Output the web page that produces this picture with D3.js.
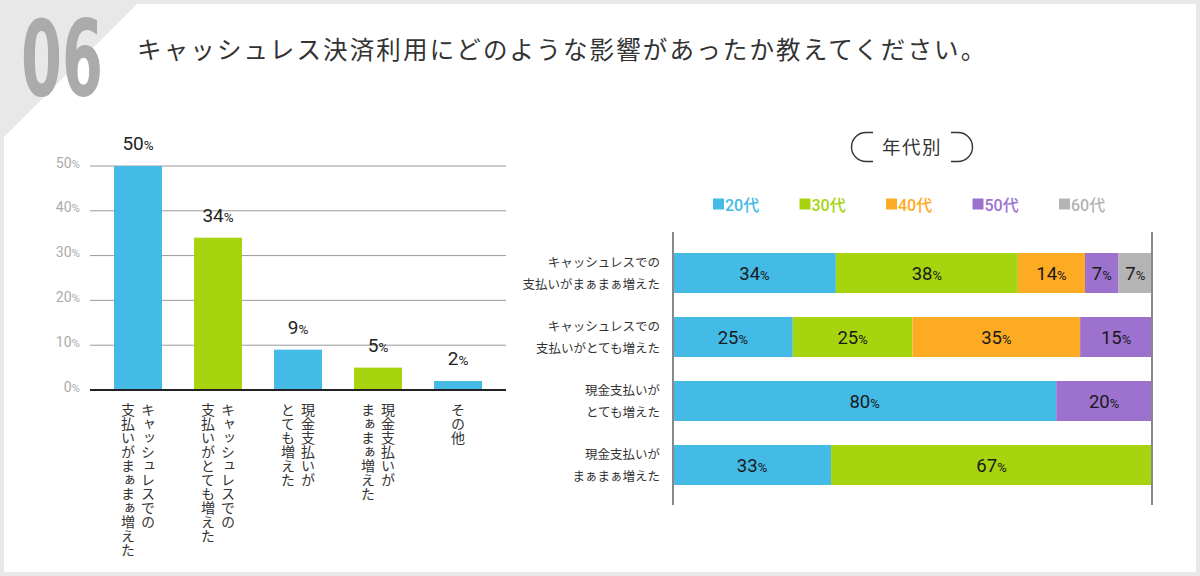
<!DOCTYPE html>
<html><head><meta charset="utf-8">
<script src="https://cdn.jsdelivr.net/npm/d3@7/dist/d3.min.js"></script>
<style>
html,body{margin:0;padding:0;background:#e8e8e8;}
svg{display:block;}
</style></head>
<body>
<svg id="c" width="1200" height="576"></svg>
<script>
// ---------- data ----------
const titleText = "キャッシュレス決済利用にどのような影響があったか教えてください。";
const leftCategories = [
  ["キャッシュレスでの","支払いがまぁまぁ増えた"],
  ["キャッシュレスでの","支払いがとても増えた"],
  ["現金支払いが","とても増えた"],
  ["現金支払いが","まぁまぁ増えた"],
  ["その他"]
];
const leftValues = [50, 34, 9, 5, 2];
const leftTicks = [0, 10, 20, 30, 40, 50];

const rightCategories = [
  ["キャッシュレスでの","支払いがまぁまぁ増えた"],
  ["キャッシュレスでの","支払いがとても増えた"],
  ["現金支払いが","とても増えた"],
  ["現金支払いが","まぁまぁ増えた"]
];
const seriesNames = ["20代","30代","40代","50代","60代"];
const s20 = [34, 25, 80, 33];
const s30 = [38, 25, 0, 67];
const s40 = [14, 35, 0, 0];
const s50 = [7, 15, 20, 0];
const s60 = [7, 0, 0, 0];
const seriesValues = [s20, s30, s40, s50, s60];

// ---------- style ----------
const C = {blue:"#43bbe6", green:"#a6d40e", orange:"#fdab22", purple:"#9d72cf", gray:"#b4b4b4"};
const seriesColors = [C.blue, C.green, C.orange, C.purple, C.gray];
const leftColors = [C.blue, C.green, C.blue, C.green, C.blue];
const JP = "'Noto Sans CJK JP','Noto Sans',sans-serif";
const NUM = "Roboto,'Noto Sans',sans-serif";

const svg = d3.select("#c");

// frame
svg.append("rect").attr("width",1200).attr("height",576).attr("fill","#e8e8e8");
svg.append("polygon").attr("points","137,4 1196,4 1196,572 4,572 4,137").attr("fill","#fff");

// big number (condensed by horizontal scaling)
const big = svg.append("g");
const bigT = big.append("text").attr("x",0).attr("y",0)
  .attr("font-family","'DejaVu Sans Condensed','DejaVu Sans',sans-serif").attr("font-weight","bold")
  .attr("font-size",106).attr("fill","#ababab").text("06");
const bw = bigT.node().getComputedTextLength();
big.attr("transform",`translate(21,96) scale(${82/bw},1)`);

// title
svg.append("text").attr("x",137).attr("y",59)
  .attr("font-family",JP).attr("font-size",24.5).attr("letter-spacing",2.15)
  .attr("fill","#333").text(titleText);

function pctText(sel, v, big, small){
  sel.append("tspan").attr("font-size",big).text(v);
  sel.append("tspan").attr("font-size",small).text("%");
}

// ---------- left chart ----------
const y = d3.scaleLinear().domain([0,50]).range([390,166]);
const x = d3.scaleBand().domain(d3.range(leftValues.length)).range([98,498]).paddingInner(0.4).paddingOuter(0.2);

const gL = svg.append("g");
gL.selectAll("line.grid").data(leftTicks.filter(t=>t>0)).join("line")
  .attr("x1",90).attr("x2",506).attr("y1",d=>y(d)).attr("y2",d=>y(d))
  .attr("stroke","#9a9a9a").attr("stroke-width",1);
gL.selectAll("text.tick").data(leftTicks).join("text")
  .attr("x",80).attr("y",d=>y(d)+1.5).attr("text-anchor","end")
  .attr("font-family",NUM).attr("fill","#aaaaaa")
  .each(function(d){ pctText(d3.select(this), d, 14, 11.5); });

gL.selectAll("rect.bar").data(leftValues).join("rect")
  .attr("x",(d,i)=>x(i)).attr("width",x.bandwidth())
  .attr("y",d=>y(d)).attr("height",d=>y(0)-y(d))
  .attr("fill",(d,i)=>leftColors[i]);

gL.append("line").attr("x1",90).attr("x2",506).attr("y1",y(0)).attr("y2",y(0))
  .attr("stroke","#222").attr("stroke-width",2);

gL.selectAll("text.val").data(leftValues).join("text")
  .attr("x",(d,i)=>x(i)+x.bandwidth()/2).attr("y",d=>y(d)-16)
  .attr("text-anchor","middle").attr("font-family",NUM).attr("fill","#222")
  .each(function(d){ pctText(d3.select(this), d, 19, 13.5); });

leftCategories.forEach((lines,i)=>{
  const cx = x(i)+x.bandwidth()/2;
  const n = lines.length;
  lines.forEach((ln,j)=>{
    const off = n===1 ? 0 : (j===0 ? 10 : -10);
    svg.append("text").attr("x",cx+off).attr("y",403)
      .attr("style","writing-mode: vertical-rl;")
      .attr("font-family",JP).attr("font-size",14).attr("fill","#333")
      .text(ln);
  });
});

// ---------- right chart ----------
const x2 = d3.scaleLinear().domain([0,100]).range([673,1152]);
const y2 = d3.scaleBand().domain(d3.range(rightCategories.length)).range([241,497]).paddingInner(0.375).paddingOuter(0.1875);

// pill
const gP = svg.append("g").attr("fill","none").attr("stroke","#333").attr("stroke-width",1.4);
gP.append("path").attr("d","M873,132.5 L866,132.5 A14.5,14.5 0 0 0 866,161.5 L873,161.5");
gP.append("path").attr("d","M951,132.5 L958,132.5 A14.5,14.5 0 0 1 958,161.5 L951,161.5");
svg.append("text").attr("x",912).attr("y",154).attr("text-anchor","middle")
  .attr("font-family",JP).attr("font-size",18.5).attr("letter-spacing",1.5).attr("fill","#333").text("年代別");

// legend
const lg = svg.append("g");
seriesNames.forEach((nm,i)=>{
  const lx = 713 + i*86.5;
  lg.append("rect").attr("x",lx).attr("y",198.5).attr("width",11).attr("height",11).attr("fill",seriesColors[i]);
  lg.append("text").attr("x",lx+12).attr("y",210.5).attr("font-family",NUM+","+JP)
    .attr("font-size",16).attr("font-weight",500).attr("fill",seriesColors[i]).text(nm);
});

// stacked bars
const stackData = rightCategories.map((c,i)=>{
  const o = {i};
  seriesNames.forEach((s,k)=>o[s]=seriesValues[k][i]);
  return o;
});
const stacked = d3.stack().keys(seriesNames)(stackData);
const gB = svg.append("g");
stacked.forEach((layer,k)=>{
  gB.selectAll(null).data(layer.filter(d=>d[1]-d[0]>0)).join("rect")
    .attr("x",d=>x2(d[0])).attr("width",d=>x2(d[1])-x2(d[0]))
    .attr("y",d=>y2(d.data.i)).attr("height",y2.bandwidth())
    .attr("fill",seriesColors[k]);
  gB.selectAll(null).data(layer.filter(d=>d[1]-d[0]>0)).join("text")
    .attr("x",d=>(x2(d[0])+x2(d[1]))/2).attr("y",d=>y2(d.data.i)+y2.bandwidth()/2+6.5)
    .attr("text-anchor","middle").attr("font-family",NUM).attr("fill","#1a1a1a")
    .each(function(d){ pctText(d3.select(this), d[1]-d[0], 18.5, 13); });
});

[0,100].forEach(v=>{
  svg.append("line").attr("x1",x2(v)).attr("x2",x2(v)).attr("y1",232).attr("y2",505)
    .attr("stroke","#888").attr("stroke-width",2);
});

rightCategories.forEach((lines,i)=>{
  const cy = y2(i)+y2.bandwidth()/2;
  lines.forEach((ln,j)=>{
    svg.append("text").attr("x",660).attr("y",cy + (j===0 ? -6 : 16))
      .attr("text-anchor","end").attr("font-family",JP).attr("font-size",12.5).attr("fill","#333")
      .text(ln);
  });
});
</script>
</body></html>
